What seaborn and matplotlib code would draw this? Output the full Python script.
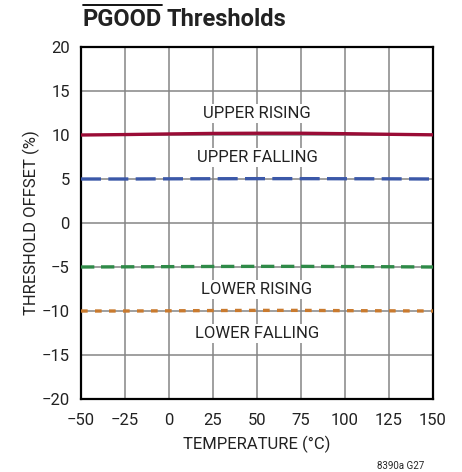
import pandas as pd
import numpy as np
import matplotlib
matplotlib.use("Agg")
import matplotlib.pyplot as plt
import seaborn as sns

# valores
temperatura = [-50, -25, 0, 25, 50, 75, 100, 125, 150]
upper_rising = [10.0, 10.05, 10.12, 10.18, 10.2, 10.2, 10.15, 10.08, 10.02]
upper_falling = [5.0, 5.0, 5.02, 5.03, 5.04, 5.04, 5.03, 5.02, 5.0]
lower_rising = [-5.0, -4.98, -4.96, -4.94, -4.93, -4.93, -4.95, -4.97, -5.0]
lower_falling = [-10.0, -10.0, -9.98, -9.95, -9.93, -9.93, -9.96, -9.98, -10.0]

series = {
    "UPPER RISING": upper_rising,
    "UPPER FALLING": upper_falling,
    "LOWER RISING": lower_rising,
    "LOWER FALLING": lower_falling,
}
cores = {
    "UPPER RISING": "#9a0c36",
    "UPPER FALLING": "#3b58a8",
    "LOWER RISING": "#2f8a48",
    "LOWER FALLING": "#c97a2e",
}
tracos = {
    "UPPER RISING": (None, None),
    "UPPER FALLING": (6, 2.2),
    "LOWER RISING": (4, 2),
    "LOWER FALLING": (2, 2.2),
}

df = pd.DataFrame({"temp": temperatura, **series}).melt(
    id_vars="temp", var_name="serie", value_name="offset")

sns.set_style("white")
fonte = ["Roboto", "DejaVu Sans"]
plt.rcParams["font.family"] = fonte

fig = plt.figure(figsize=(4.62, 4.72), dpi=100)
ax = fig.add_axes([81 / 462, 1 - 399 / 472, 352 / 462, 352 / 472])

for nome, vals in series.items():
    d = df[df["serie"] == nome]
    ls = "-" if tracos[nome][0] is None else (0, tracos[nome])
    sns.lineplot(data=d, x="temp", y="offset", ax=ax, color=cores[nome],
                 linewidth=2.4, linestyle=ls, legend=False, zorder=3)

ax.set_xlim(-50, 150)
ax.set_ylim(-20, 20)
ax.set_xticks(np.arange(-50, 151, 25))
ax.set_yticks(np.arange(-20, 21, 5))
ax.set_xticklabels(["\u221250", "\u221225", "0", "25", "50", "75", "100", "125", "150"])
ax.set_yticklabels(["\u221220", "\u221215", "\u221210", "\u22125", "0", "5", "10", "15", "20"])
ax.tick_params(labelsize=12, length=0, colors="#222222")
ax.tick_params(axis="x", pad=10)
ax.tick_params(axis="y", pad=8)
ax.grid(True, color="#858585", linewidth=1.1, zorder=0)
for s in ax.spines.values():
    s.set_color("black")
    s.set_linewidth(1.6)
    s.set_visible(True)

ax.set_xlabel("TEMPERATURE (°C)", fontsize=12, labelpad=6, color="#222222")
ax.set_ylabel("THRESHOLD OFFSET (%)", fontsize=12, labelpad=1, color="#222222")

for nome, y in [("UPPER RISING", 12.5), ("UPPER FALLING", 7.5),
                ("LOWER RISING", -7.5), ("LOWER FALLING", -12.5)]:
    ax.text(50, y, nome, ha="center", va="center", fontsize=12, color="#222222",
            bbox=dict(facecolor="white", edgecolor="none", pad=1.5), zorder=4)

# título com barra sobre PGOOD
t1 = fig.text(83 / 462, 1 - 26 / 472, "PGOOD", fontsize=17, fontweight="bold",
              ha="left", va="baseline", color="#222222")
fig.canvas.draw()
bb = t1.get_window_extent()
fig.text(bb.x1 / 462 + 0.01, 1 - 26 / 472, "Thresholds", fontsize=17,
         fontweight="bold", ha="left", va="baseline", color="#222222")
fig.add_artist(plt.Line2D([bb.x0 / 462, bb.x1 / 462], [1 - 5 / 472, 1 - 5 / 472],
                          color="black", linewidth=1.3, transform=fig.transFigure))

fig.text(424 / 462, 1 - 466 / 472, "8390a G27", fontsize=7, ha="right", va="center")

fig.savefig("out.png", dpi=100)
